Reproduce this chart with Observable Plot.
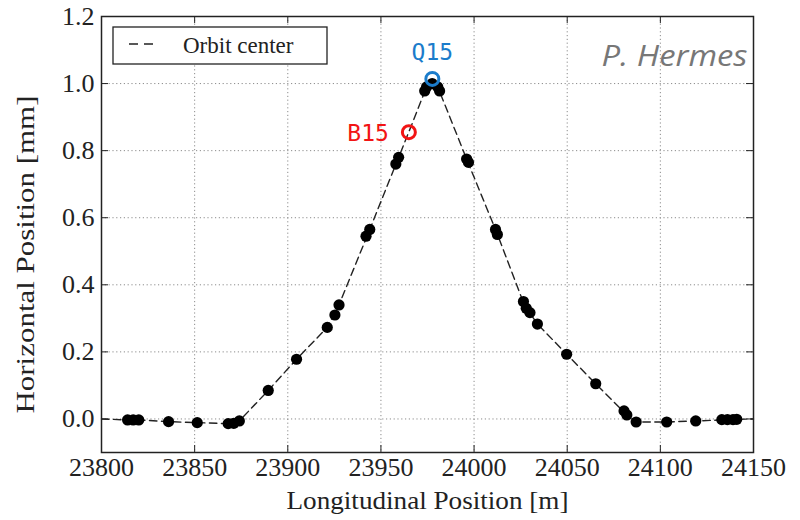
<!DOCTYPE html>
<html>
<head>
<meta charset="utf-8">
<script src="https://cdn.jsdelivr.net/npm/d3@7"></script>
<script src="https://cdn.jsdelivr.net/npm/@observablehq/plot@0.6"></script>
<style>
  html, body { margin: 0; padding: 0; background: #fff; }
  #chart { position: relative; width: 800px; height: 520px; overflow: hidden; }
</style>
</head>
<body>
<div id="chart"></div>
<script>
// Beam position monitor readings: longitudinal position [m] and horizontal offset [mm]
const bpmS = [23814, 23817, 23820, 23836, 23851.4, 23868, 23871, 23874,
  23889.5, 23904.7, 23921.2, 23925.3, 23927.5, 23942, 23944, 23958, 23959.5,
  23973.5, 23974.5, 23977.5, 23980.5, 23981.5, 23996, 23997, 24011.5, 24012.5,
  24026.5, 24028, 24030, 24034, 24049.7, 24065.3, 24080.5, 24082, 24087,
  24103.4, 24119, 24133, 24136, 24139, 24141];
const bpmX = [-0.003, -0.003, -0.003, -0.008, -0.011, -0.014, -0.013, -0.006,
  0.085, 0.178, 0.273, 0.31, 0.34, 0.545, 0.565, 0.76, 0.78,
  0.978, 0.99, 1.0, 0.99, 0.978, 0.775, 0.765, 0.565, 0.55,
  0.35, 0.33, 0.317, 0.283, 0.193, 0.105, 0.024, 0.012, -0.009,
  -0.009, -0.006, -0.002, -0.002, -0.002, -0.001];

// Dashed orbit-center curve across the whole range
const orbitS = [23800, 23814, 23820, 23836, 23851.4, 23868, 23874, 23889.5,
  23904.7, 23921.2, 23927.5, 23944, 23959.5, 23965, 23974.5, 23977.5, 23980.5,
  23996, 24012, 24027, 24034, 24049.7, 24065.3, 24082, 24087, 24103.4, 24119,
  24141, 24150];
const orbitX = [0.0, -0.003, -0.003, -0.008, -0.011, -0.014, -0.006, 0.085,
  0.178, 0.273, 0.34, 0.565, 0.78, 0.856, 0.99, 1.01, 0.99,
  0.775, 0.558, 0.34, 0.283, 0.193, 0.105, 0.012, -0.009, -0.009, -0.006,
  -0.001, 0.0];

// Highlighted elements
const markerNames = ["Q15", "B15"];
const markerS = [23977.6, 23965];
const markerX = [1.014, 0.855];
const markerColors = ["#1b7ccb", "#f21414"];

// Axis ticks
const xTicks = [23800, 23850, 23900, 23950, 24000, 24050, 24100, 24150];
const yTicks = [0.0, 0.2, 0.4, 0.6, 0.8, 1.0, 1.2];

const bpm = bpmS.map((s, i) => ({s, x: bpmX[i]}));
const orbit = orbitS.map((s, i) => ({s, x: orbitX[i]}));
const markers = markerNames.map((name, i) => ({name, s: markerS[i], x: markerX[i], color: markerColors[i]}));

const W = 800, H = 520, mL = 101, mR = 47, mT = 16, mB = 68;
const innerW = W - mL - mR, innerH = H - mT - mB;
const serif = "'Liberation Serif', 'DejaVu Serif', serif";
const mono = "'DejaVu Sans Mono', monospace";
const gridStyle = {stroke: "#8c8c8c", strokeOpacity: 1, strokeWidth: 1, strokeDasharray: "1.2,2.6"};
const tickLen = 7;
const xLabel = "Longitudinal Position [m]";
const yLabel = "Horizontal Position [mm]";
const author = "P. Hermes";

const chart = Plot.plot({
  width: W,
  height: H,
  marginLeft: mL,
  marginRight: mR,
  marginTop: mT,
  marginBottom: mB,
  style: {fontFamily: serif, fontSize: "26px", color: "#222", background: "#fff"},
  x: {domain: [23800, 24150]},
  y: {domain: [-0.1, 1.2]},
  color: {type: "identity"},
  marks: [
    Plot.gridX(xTicks, gridStyle),
    Plot.gridY(yTicks, gridStyle),
    // inward ticks on all four sides
    Plot.tickX(xTicks, {x: d => d, insetTop: innerH - tickLen, stroke: "#222"}),
    Plot.tickX(xTicks, {x: d => d, insetBottom: innerH - tickLen, stroke: "#222"}),
    Plot.tickY(yTicks, {y: d => d, insetRight: innerW - tickLen, stroke: "#222"}),
    Plot.tickY(yTicks, {y: d => d, insetLeft: innerW - tickLen, stroke: "#222"}),
    Plot.axisX(xTicks, {tickSize: 0, tickPadding: 5, label: null, tickFormat: d => String(d), fill: "#222"}),
    Plot.axisY(yTicks, {tickSize: 0, tickPadding: 7, label: null, tickFormat: d => d.toFixed(1), fill: "#222"}),
    Plot.line(orbit, {x: "s", y: "x", stroke: "#222", strokeWidth: 1.4, strokeDasharray: "7.5,4.5"}),
    Plot.dot(bpm, {x: "s", y: "x", r: 5.6, fill: "#000", stroke: null}),
    Plot.dot(markers, {x: "s", y: "x", r: 6.5, stroke: "color", strokeWidth: 3, fill: "none"}),
    Plot.text(markers.filter(d => d.name === "Q15"), {x: "s", y: "x", text: "name", fill: "color",
      dy: -26, fontFamily: mono, fontSize: 23, textAnchor: "middle"}),
    Plot.text(markers.filter(d => d.name === "B15"), {x: "s", y: "x", text: "name", fill: "color",
      dx: -20, dy: 1, fontFamily: mono, fontSize: 23, textAnchor: "end"}),
    Plot.frame({stroke: "#222", strokeWidth: 1.5}),
    Plot.text([author], {frameAnchor: "top-right", dx: -6, dy: 28, text: d => d,
      fontFamily: "'Open Sans', sans-serif", fontStyle: "italic", fontSize: 30, fill: "#777", textAnchor: "end"}),
    Plot.text([xLabel], {frameAnchor: "bottom", dy: 56, text: d => d,
      fontSize: 26, fill: "#222", textAnchor: "middle"}),
    Plot.text([yLabel], {frameAnchor: "left", dx: -76, dy: 20, rotate: -90, text: d => d,
      fontSize: 26, fill: "#222", textAnchor: "middle"})
  ]
});

const svg = d3.select(chart);

// Fit the axis titles and the author tag to their full extent
svg.selectAll("text").filter(function() { return this.textContent === yLabel; })
  .attr("textLength", 318).attr("lengthAdjust", "spacingAndGlyphs");
svg.selectAll("text").filter(function() { return this.textContent === xLabel; })
  .attr("textLength", 282).attr("lengthAdjust", "spacingAndGlyphs");
svg.selectAll("text").filter(function() { return this.textContent === author; })
  .attr("textLength", 146).attr("lengthAdjust", "spacingAndGlyphs");

// Legend box in the upper-left corner of the frame
const legend = svg.append("g").attr("class", "legend").attr("text-anchor", "start");
legend.append("rect")
  .attr("x", 113).attr("y", 27).attr("width", 214).attr("height", 37)
  .attr("fill", "#fff").attr("stroke", "#222").attr("stroke-width", 1.3);
legend.append("line")
  .attr("x1", 129).attr("x2", 153).attr("y1", 44).attr("y2", 44)
  .attr("stroke", "#222").attr("stroke-width", 1.3).attr("stroke-dasharray", "9,6");
legend.append("text")
  .attr("x", 183).attr("y", 53)
  .attr("font-family", serif).attr("font-size", 23).attr("fill", "#222")
  .text("Orbit center");

document.getElementById("chart").appendChild(chart);
</script>
</body>
</html>
